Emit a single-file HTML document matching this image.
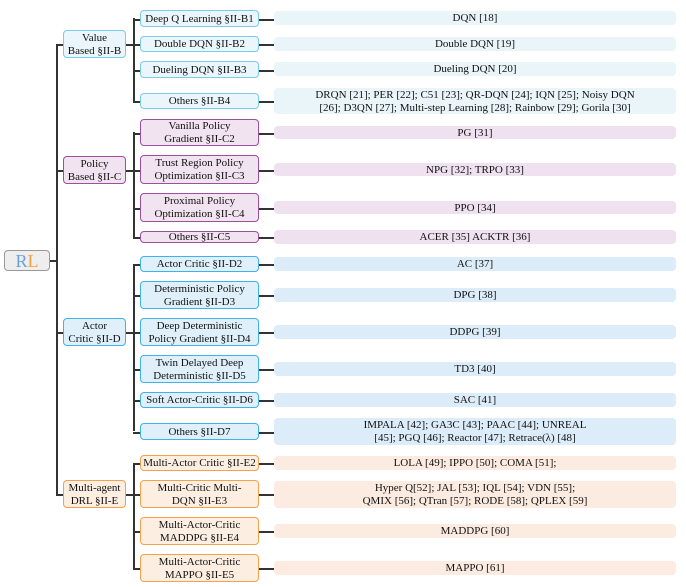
<!DOCTYPE html><html><head><meta charset="utf-8"><style>
body{margin:0;width:686px;height:587px;background:#fff;position:relative;font-family:"Liberation Serif",serif;font-size:11px;color:#111;overflow:hidden}
.b{position:absolute;box-sizing:border-box;display:flex;align-items:center;justify-content:center;text-align:center;line-height:13px;border-radius:4px;white-space:nowrap}
.b span{display:block;padding-top:1px}
.l{position:absolute;background:#333}
.v{border:1.3px solid #7ccbe9;background:#eaf6fb}
.p{border:1.3px solid #9c4f9c;background:#f1e3f0}
.a{border:1.3px solid #3fb2e8;background:#dff0fb}
.m{border:1.3px solid #f5a04c;background:#fdeee2}
.rv{background:#eaf5f9}.rp{background:#efe1ef}.ra{background:#dcedf9}.rm{background:#fcebe0}
</style></head><body>
<div class="l" style="left:56px;top:44px;width:1.5px;height:451px"></div>
<div class="l" style="left:49px;top:260px;width:8px;height:1.5px"></div>
<div class="b" style="left:4px;top:250px;width:46px;height:21px;border:1.3px solid #999;background:#eee;font-size:18px"><span><span style="color:#6fa0d8;display:inline">R</span><span style="color:#f5a03c;display:inline">L</span></span></div>
<div id="c"></div>
<script>
const cats=[
["v","Value<br>Based §II-B",30,58,18,101,[
["Deep Q Learning §II-B1",10,27,11,25,"DQN [18]"],
["Double DQN §II-B2",36,52,37,51,"Double DQN [19]"],
["Dueling DQN §II-B3",61,78,62,76,"Dueling DQN [20]"],
["Others §II-B4",93,109,88,114,"DRQN [21]; PER [22]; C51 [23]; QR-DQN [24]; IQN [25]; Noisy DQN<br>[26]; D3QN [27]; Multi-step Learning [28]; Rainbow [29]; Gorila [30]"]]],
["p","Policy<br>Based §II-C",156,184,132,237,[
["Vanilla Policy<br>Gradient §II-C2",119,146,126,139,"PG [31]"],
["Trust Region Policy<br>Optimization §II-C3",155,184,163,176,"NPG [32]; TRPO [33]"],
["Proximal Policy<br>Optimization §II-C4",193,222,201,214,"PPO [34]"],
["Others §II-C5",231,243,230,244,"ACER [35] ACKTR [36]"]]],
["a","Actor<br>Critic §II-D",318,346,264,431,[
["Actor Critic §II-D2",256,272,257,271,"AC [37]"],
["Deterministic Policy<br>Gradient §II-D3",281,309,288,302,"DPG [38]"],
["Deep Deterministic<br>Policy Gradient §II-D4",318,346,325,339,"DDPG [39]"],
["Twin Delayed Deep<br>Deterministic §II-D5",355,383,362,376,"TD3 [40]"],
["Soft Actor-Critic §II-D6",392,408,393,407,"SAC [41]"],
["Others §II-D7",423,440,418,445,"IMPALA [42]; GA3C [43]; PAAC [44]; UNREAL<br>[45]; PGQ [46]; Reactor [47]; Retrace(λ) [48]"]]],
["m","Multi-agent<br>DRL §II-E",480,508,463,568,[
["Multi-Actor Critic §II-E2",455,471,456,470,"LOLA [49]; IPPO [50]; COMA [51];"],
["Multi-Critic Multi-<br>DQN §II-E3",480,508,481,508,"Hyper Q[52]; JAL [53]; IQL [54]; VDN [55];<br>QMIX [56]; QTran [57]; RODE [58]; QPLEX [59]"],
["Multi-Actor-Critic<br>MADDPG §II-E4",517,545,524,538,"MADDPG [60]"],
["Multi-Actor-Critic<br>MAPPO §II-E5",554,582,561,575,"MAPPO [61]"]]]];
let h="";
for(const [k,t,y1,y2,v1,v2,rows] of cats){
 const cy=Math.round((y1+y2)/2);
 h+=`<div class="l" style="left:56px;top:${cy}px;width:7px;height:1.5px"></div>`;
 h+=`<div class="b ${k}" style="left:63px;top:${y1}px;width:63px;height:${y2-y1}px"><span>${t}</span></div>`;
 h+=`<div class="l" style="left:126px;top:${cy}px;width:8px;height:1.5px"></div>`;
 h+=`<div class="l" style="left:133px;top:${v1}px;width:1.5px;height:${v2-v1}px"></div>`;
 for(const [n,a,b,c,d,r] of rows){
  const my=Math.round((a+b)/2);
  h+=`<div class="l" style="left:133px;top:${my}px;width:7px;height:1.5px"></div>`;
  h+=`<div class="b ${k}" style="left:140px;top:${a}px;width:119px;height:${b-a}px"><span>${n}</span></div>`;
  h+=`<div class="l" style="left:259px;top:${my}px;width:15px;height:1.5px"></div>`;
  h+=`<div class="b r${k}" style="left:274px;top:${c}px;width:402px;height:${d-c}px"><span>${r}</span></div>`;
 }
}
document.getElementById("c").innerHTML=h;
</script>
</body></html>
